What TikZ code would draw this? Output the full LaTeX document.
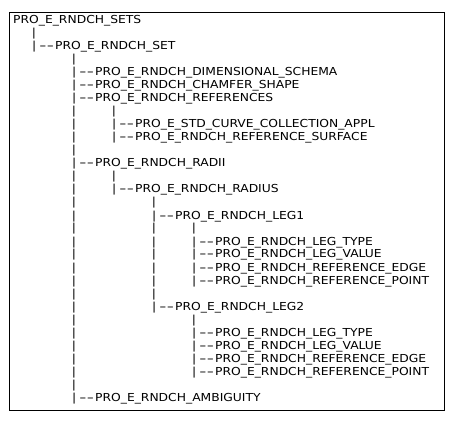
\documentclass[tikz,border=0pt]{standalone}
\usepackage{fontspec}
\setmainfont[FakeStretch=1.12]{DejaVu Sans}
\usepackage{tikz}
\newcommand{\dash}{\scalebox{1.6}[1]{-}}
\newcommand{\twig}{|\kern3pt\dash\kern0.4pt\dash\kern1.2pt}

\begin{document}
\begin{tikzpicture}[x=1pt, y=-1pt, font=\fontsize{11}{13}\selectfont,
    entry/.style={anchor=base west, inner sep=0pt},
    vbar/.style={anchor=base, inner sep=0pt}]
    \useasboundingbox (0,0) rectangle (455,422);

    % Frame
    \draw[line width=0.8pt] (9,12) rectangle (444,410);

    % Nodes
    \node[entry] (sets) at (13,24) {PRO\_E\_RNDCH\_SETS};
    \node[entry] (set) at (32,50) {\twig PRO\_E\_RNDCH\_SET};
    \node[entry] (schema) at (72,76) {\twig PRO\_E\_RNDCH\_DIMENSIONAL\_SCHEMA};
    \node[entry] (chamfer) at (72,89) {\twig PRO\_E\_RNDCH\_CHAMFER\_SHAPE};
    \node[entry] (refs) at (72,102) {\twig PRO\_E\_RNDCH\_REFERENCES};
    \node[entry] (curve) at (112,128) {\twig PRO\_E\_STD\_CURVE\_COLLECTION\_APPL};
    \node[entry] (surface) at (112,141) {\twig PRO\_E\_RNDCH\_REFERENCE\_SURFACE};
    \node[entry] (radii) at (72,167) {\twig PRO\_E\_RNDCH\_RADII};
    \node[entry] (radius) at (112,193) {\twig PRO\_E\_RNDCH\_RADIUS};
    \node[entry] (leg1) at (152,219) {\twig PRO\_E\_RNDCH\_LEG1};
    \node[entry] (type1) at (192,245) {\twig PRO\_E\_RNDCH\_LEG\_TYPE};
    \node[entry] (value1) at (192,258) {\twig PRO\_E\_RNDCH\_LEG\_VALUE};
    \node[entry] (edge1) at (192,271) {\twig PRO\_E\_RNDCH\_REFERENCE\_EDGE};
    \node[entry] (point1) at (192,284) {\twig PRO\_E\_RNDCH\_REFERENCE\_POINT};
    \node[entry] (leg2) at (152,310) {\twig PRO\_E\_RNDCH\_LEG2};
    \node[entry] (type2) at (192,336) {\twig PRO\_E\_RNDCH\_LEG\_TYPE};
    \node[entry] (value2) at (192,349) {\twig PRO\_E\_RNDCH\_LEG\_VALUE};
    \node[entry] (edge2) at (192,362) {\twig PRO\_E\_RNDCH\_REFERENCE\_EDGE};
    \node[entry] (point2) at (192,375) {\twig PRO\_E\_RNDCH\_REFERENCE\_POINT};
    \node[entry] (ambig) at (72,401) {\twig PRO\_E\_RNDCH\_AMBIGUITY};

    % Bars
    \node[vbar] (b1-2) at (34,37) {|};
    \foreach \r in {4,8,9,10,11,13,14,...,29}
        \node[vbar] (b2-\r) at (74,{11+13*\r}) {|};
    \foreach \r in {8,13}
        \node[vbar] (b3-\r) at (114,{11+13*\r}) {|};
    \foreach \r in {15,17,18,...,22}
        \node[vbar] (b4-\r) at (154,{11+13*\r}) {|};
    \foreach \r in {17,24}
        \node[vbar] (b5-\r) at (194,{11+13*\r}) {|};
\end{tikzpicture}
\end{document}
